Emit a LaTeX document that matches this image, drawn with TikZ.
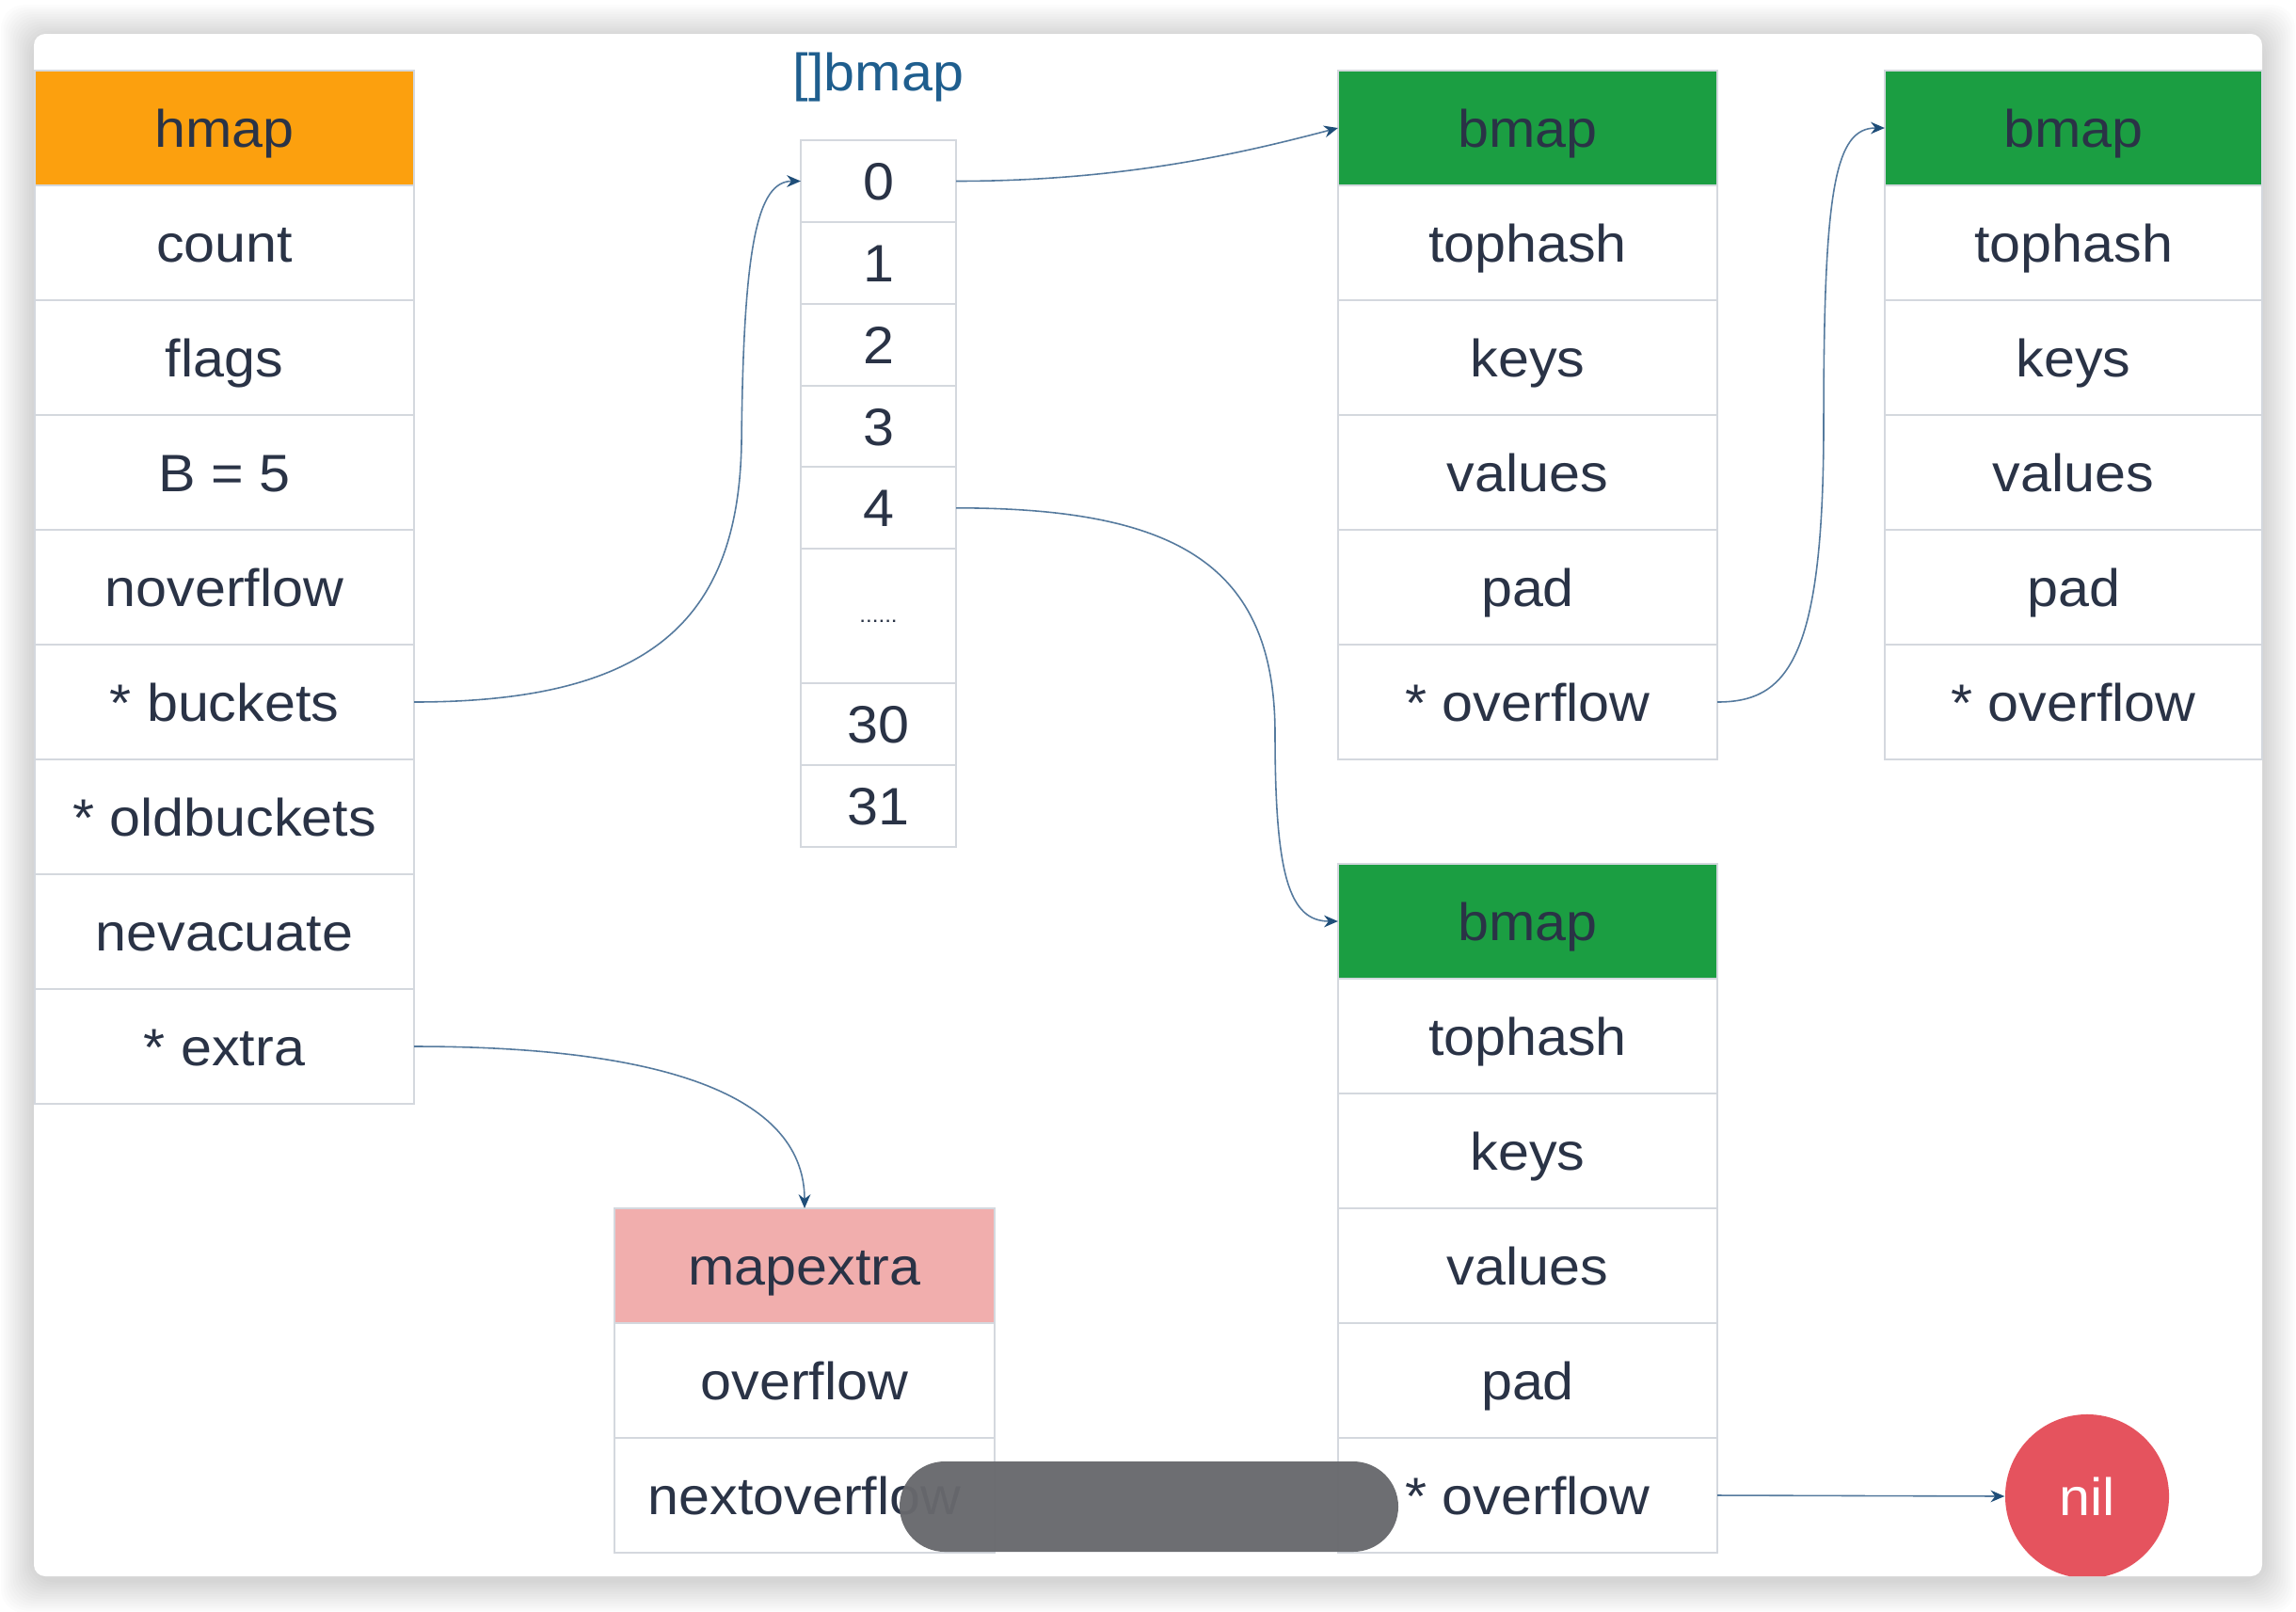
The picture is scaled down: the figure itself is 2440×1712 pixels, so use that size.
\documentclass[tikz,border=0pt]{standalone}
\usepackage{fontspec}
\setmainfont[FakeStretch=1.06]{Liberation Sans}
\usetikzlibrary{arrows.meta}
\definecolor{orangeC}{HTML}{FCA00E}
\definecolor{greenC}{HTML}{1B9E42}
\definecolor{pinkC}{HTML}{F1AEAD}
\definecolor{nilC}{HTML}{E5535E}
\definecolor{txt}{HTML}{2A3346}
\definecolor{bordC}{HTML}{D4D8DE}
\definecolor{linkC}{HTML}{557A9E}
\definecolor{tipC}{HTML}{1F4E79}
\definecolor{titleC}{HTML}{1F5E8E}
\definecolor{pillC}{HTML}{68696D}
\newcommand{\mainfs}{\fontsize{15.9pt}{19pt}\selectfont}
\tikzset{
  cell/.style={draw=bordC, line width=0.6pt, fill=white, minimum width=4.03cm,
    minimum height=1.22cm, inner sep=0pt, outer sep=0pt, text=txt, font=\mainfs,
    text height=14.3pt, text depth=2.9pt},
  acell/.style={cell, minimum width=1.65cm, minimum height=0.868cm},
  link/.style={draw=linkC, line width=0.45pt,
    -{Stealth[length=4.2pt, width=3.6pt, color=tipC]}},
}
\begin{document}
\begin{tikzpicture}[x=0.01cm, y=-0.01cm]
\useasboundingbox (0,0) rectangle (2440,1712);
\fill[white] (0,0) rectangle (2440,1712);
% card shadow
\foreach \i in {1,...,14}{
  \fill[black, opacity=0.012, rounded corners=0.25cm]
    ({36-\i*2.5},{36-\i*2.5+4}) rectangle ({2404+\i*2.5},{1675+\i*2.5+4});
}
\fill[white, rounded corners=0.12cm] (36,36) rectangle (2404,1675);

% hmap
\node[cell, fill=orangeC] (hmap) at (238.5,136) {hmap};
\node[cell] (count) at (238.5,258) {count};
\node[cell] (flags) at (238.5,380) {flags};
\node[cell] (B) at (238.5,502) {B = 5};
\node[cell] (nover) at (238.5,624) {noverflow};
\node[cell] (buckets) at (238.5,746) {* buckets};
\node[cell] (oldb) at (238.5,868) {* oldbuckets};
\node[cell] (nevac) at (238.5,990) {nevacuate};
\node[cell] (extra) at (238.5,1112) {* extra};

% []bmap array
\node[text=titleC, font=\mainfs, anchor=base] (arrtitle) at (933.5,97) {[]bmap};
\node[acell] (a0) at (933.5,192.5) {0};
\node[acell] (a1) at (933.5,279.4) {1};
\node[acell] (a2) at (933.5,366.2) {2};
\node[acell] (a3) at (933.5,453) {3};
\node[acell] (a4) at (933.5,539.8) {4};
\node[acell, minimum height=1.43cm, font=\fontsize{6.5pt}{8pt}\selectfont, text height=4pt, text depth=0pt] (adots) at (933.5,654.6) {......};
\node[acell] (a30) at (933.5,769.5) {30};
\node[acell] (a31) at (933.5,856.3) {31};

% bmap 1
\node[cell, fill=greenC] (b1h) at (1623.5,136) {bmap};
\node[cell] (b1t) at (1623.5,258) {tophash};
\node[cell] (b1k) at (1623.5,380) {keys};
\node[cell] (b1v) at (1623.5,502) {values};
\node[cell] (b1p) at (1623.5,624) {pad};
\node[cell] (b1o) at (1623.5,746) {* overflow};

% bmap 2
\node[cell, fill=greenC, minimum width=4.01cm] (b2h) at (2203.5,136) {bmap};
\node[cell, minimum width=4.01cm] (b2t) at (2203.5,258) {tophash};
\node[cell, minimum width=4.01cm] (b2k) at (2203.5,380) {keys};
\node[cell, minimum width=4.01cm] (b2v) at (2203.5,502) {values};
\node[cell, minimum width=4.01cm] (b2p) at (2203.5,624) {pad};
\node[cell, minimum width=4.01cm] (b2o) at (2203.5,746) {* overflow};

% bmap 3
\node[cell, fill=greenC] (b3h) at (1623.5,979) {bmap};
\node[cell] (b3t) at (1623.5,1101) {tophash};
\node[cell] (b3k) at (1623.5,1223) {keys};
\node[cell] (b3v) at (1623.5,1345) {values};
\node[cell] (b3p) at (1623.5,1467) {pad};
\node[cell] (b3o) at (1623.5,1589) {* overflow};

% mapextra
\node[cell, fill=pinkC] (mx) at (855,1345) {mapextra};
\node[cell] (mxo) at (855,1467) {overflow};
\node[cell] (mxn) at (855,1589) {nextoverflow};

% nil
\begin{scope}
\clip[rounded corners=0.12cm] (36,36) rectangle (2404,1675);
\node[circle, fill=nilC, minimum size=1.74cm, inner sep=0pt, text=white, font=\mainfs] (nil) at (2218,1590) {nil};
\end{scope}

% connectors
\draw[link] (buckets.east) .. controls (690,746) and (785,660) .. (788,470)
  .. controls (790,260) and (805,192.5) .. (a0.west);
\draw[link] (a0.east) .. controls (1200,192.5) and (1330,160) .. (b1h.west);
\draw[link] (a4.east) .. controls (1250,539.8) and (1355,600) .. (1355,780)
  .. controls (1355,930) and (1370,979) .. (b3h.west);
\draw[link] (b1o.east) .. controls (1900,746) and (1938,700) .. (1938,450)
  .. controls (1938,200) and (1950,136) .. (b2h.west);
\draw[link] (extra.east) .. controls (720,1112) and (855,1170) .. (mx.north);
\draw[link] (b3o.east) -- (nil.west);

% overlay pill
\fill[pillC, opacity=0.96, rounded corners=0.48cm] (956,1553) rectangle (1486,1649);
\end{tikzpicture}
\end{document}
